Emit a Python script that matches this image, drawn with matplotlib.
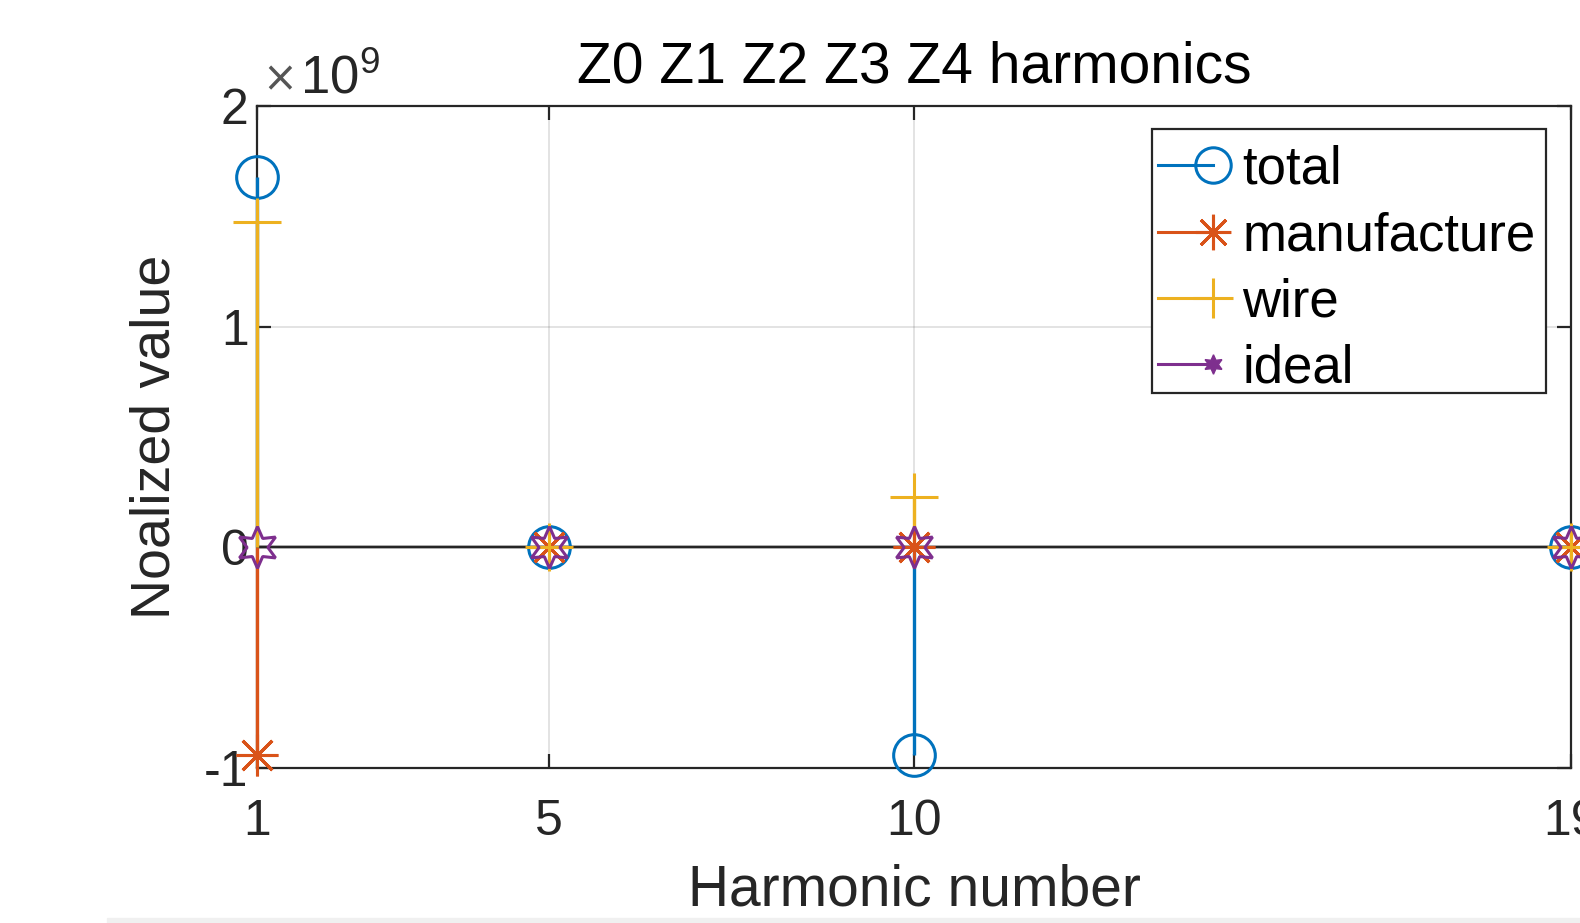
import matplotlib.pyplot as plt
from matplotlib.lines import Line2D
from matplotlib.legend_handler import HandlerLine2D
from matplotlib.ticker import FuncFormatter
from matplotlib.patches import Rectangle

plt.rcParams['font.family'] = ['Liberation Sans', 'DejaVu Sans']
plt.rcParams['axes.unicode_minus'] = False
plt.rcParams['mathtext.fontset'] = 'custom'
plt.rcParams['mathtext.rm'] = 'Liberation Sans'
plt.rcParams['mathtext.it'] = 'Liberation Sans'

# harmonic numbers and the four stem series (raw values, shown as x10^9)
harmonics = [1, 5, 10, 19]
total = [1.68e9, 0.0, -0.94e9, 0.0]
manufacture = [-0.94e9, 0.0, 0.0, 0.0]
wire = [1.475e9, 0.0, 0.23e9, 0.0]
ideal = [0.0, 0.0, 0.0, 0.0]

series_names = ['total', 'manufacture', 'wire', 'ideal']
colors = ['#0072BD', '#D95319', '#EDB120', '#7E2F8E']
markers = ['o', (8, 2, 0), '+', (6, 1, 0)]
marker_sizes = [30, 30, 34, 30]

x_ticks = [1, 5, 10, 19]
y_ticks = [-1e9, 0, 1e9, 2e9]
y_scale = 1e9
dark = '#262626'


class EndMarkerHandler(HandlerLine2D):
    # MATLAB style legend: line with the marker sitting at its right end
    def create_artists(self, legend, orig_handle, xdescent, ydescent,
                       width, height, fontsize, trans):
        arts = super().create_artists(legend, orig_handle, xdescent, ydescent,
                                      width, height, fontsize, trans)
        for a in arts:
            a.set_markevery([len(a.get_xdata()) - 1])
        return arts


fig = plt.figure(figsize=(15.8, 9.23), dpi=100)
ax = fig.add_axes([257 / 1580, 1 - 768 / 923, 1314 / 1580, 662 / 923])

all_series = [total, manufacture, wire, ideal]
for vals, c, m, ms in zip(all_series, colors, markers, marker_sizes):
    mk, stems, base = ax.stem(harmonics, vals, basefmt='-')
    stems.set_color(c)
    stems.set_linewidth(2.4)
    stems.set_clip_on(False)
    stems.set_zorder(2.7)
    mk.set_marker(m)
    mk.set_markersize(ms)
    mk.set_markerfacecolor('none')
    mk.set_markeredgecolor(c)
    mk.set_markeredgewidth(2.2)
    mk.set_clip_on(False)
    mk.set_zorder(3)
    base.set_color(dark)
    base.set_linewidth(1.6)

ax.set_xlim(1, 19)
ax.set_ylim(-1e9, 2e9)
ax.set_xticks(x_ticks)
ax.set_yticks(y_ticks)
ax.yaxis.set_major_formatter(FuncFormatter(lambda v, p: f'{v / y_scale:g}'))

# MATLAB-style exponent label above the y axis
ax.text(0.004, 1.041, '\u00d7', transform=ax.transAxes, ha='left', va='center',
        fontsize=30, color='#555555', family=['DejaVu Sans'])
ax.text(0.033, 1.0196, r'$10^{9}$', transform=ax.transAxes,
        ha='left', va='baseline', fontsize=38, color=dark)

ax.grid(True, color=dark, alpha=0.15, linewidth=1.2)
ax.set_axisbelow(True)
ax.tick_params(direction='in', length=10, width=1.6, colors=dark,
               labelsize=36, top=True, right=True)
ax.tick_params(axis='x', pad=22)
ax.tick_params(axis='y', pad=6)
for s in ax.spines.values():
    s.set_color(dark)
    s.set_linewidth(1.6)

ax.set_title('Z0 Z1 Z2 Z3 Z4 harmonics', fontsize=41, color='black', pad=17)
ax.set_xlabel('Harmonic number', fontsize=41, color=dark, labelpad=14)
ax.set_ylabel('Noalized value', fontsize=40, color=dark, labelpad=16)

handles = []
for name, c, m, ms in zip(series_names, colors, markers, marker_sizes):
    if name == 'ideal':
        h = Line2D([], [], color=c, linewidth=2.2, marker=m, markersize=14,
                   markerfacecolor=c, markeredgecolor=c)
    else:
        h = Line2D([], [], color=c, linewidth=2.2, marker=m, markersize=ms * 0.85,
                   markerfacecolor='none', markeredgecolor=c, markeredgewidth=2.2)
    handles.append(h)

# legend frame drawn separately so the entries can sit where MATLAB puts them
leg_x0, leg_x1 = (1152 - 257) / 1314, (1546 - 257) / 1314
leg_y0, leg_y1 = 1 - (393 - 106) / 662, 1 - (129 - 106) / 662
ax.add_patch(Rectangle((leg_x0, leg_y0), leg_x1 - leg_x0, leg_y1 - leg_y0,
                       transform=ax.transAxes, facecolor='white',
                       edgecolor=dark, linewidth=1.6, zorder=4))
leg = ax.legend(handles, series_names, loc='upper right',
                bbox_to_anchor=(leg_x1 - 0.002, leg_y1 - 0.012), borderaxespad=0,
                fontsize=38, frameon=False,
                handlelength=1.05, handletextpad=0.55, labelspacing=0.31,
                borderpad=0.15, numpoints=1,
                handler_map={Line2D: EndMarkerHandler()})
leg.set_zorder(5)

fig.patches.append(Rectangle((107 / 1580, 0), 1 - 107 / 1580, 5 / 923,
                             transform=fig.transFigure, color='#f0f0f0',
                             zorder=0))

fig.savefig('out.png', dpi=100)
